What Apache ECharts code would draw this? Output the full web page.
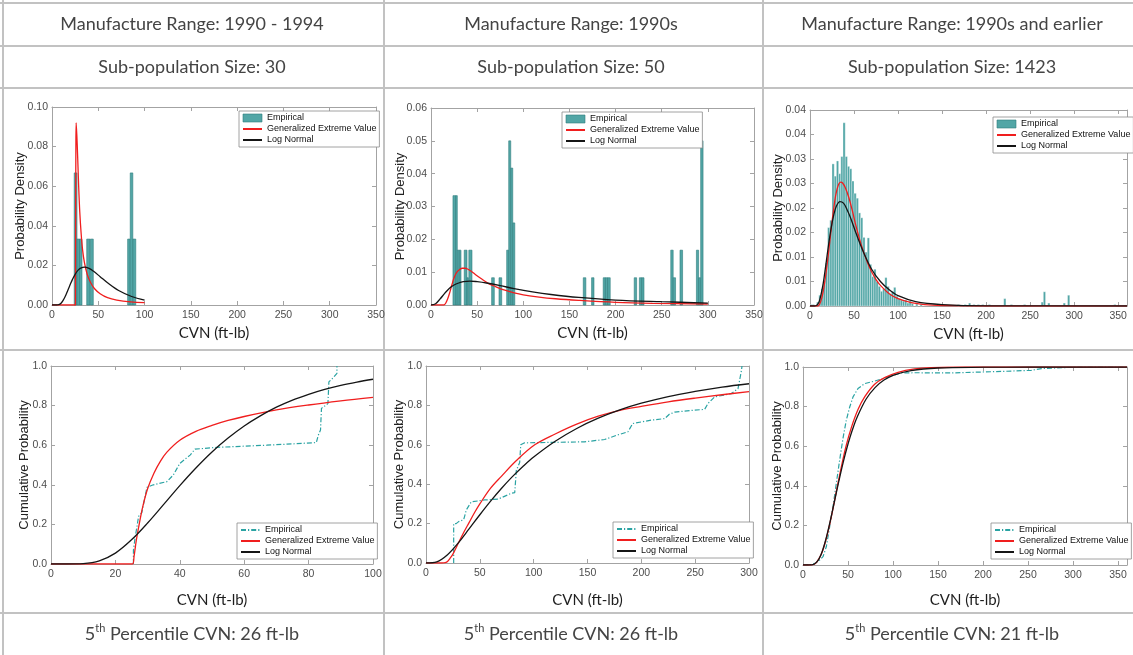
<!DOCTYPE html>
<html>
<head>
<meta charset="utf-8">
<script src="https://cdn.jsdelivr.net/npm/echarts@6/dist/echarts.min.js"></script>
<style>
  html, body { margin: 0; padding: 0; background: #fff; }
  #c { width: 1133px; height: 655px; }
</style>
</head>
<body>
<div id="c"></div>
<script>
// ---- table text ----
const rangeLabels = ['Manufacture Range: 1990 - 1994', 'Manufacture Range: 1990s', 'Manufacture Range: 1990s and earlier'];
const sizeLabels = ['Sub-population Size: 30', 'Sub-population Size: 50', 'Sub-population Size: 1423'];
const p5Values = [26, 26, 21];

// ---- histograms: [binLeft, binRight, density] ----
const hist1 = [[24.0,27.0,0.0667],[27.0,29.7,0.0333],[29.7,32.4,0.0333],[37.5,41.0,0.0333],[41.4,44.6,0.0333],
  [81.7,84.5,0.0333],[84.5,87.3,0.0667],[87.3,90.5,0.0333]];
const hist2 = [[23.8,26.7,0.0333],[26.7,28.5,0.0333],[28.5,30.7,0.0167],[30.7,32.5,0.0167],[36.0,39.0,0.0167],
  [39.0,40.5,0.0083],[41.0,44.4,0.0167],[65.7,68.6,0.0083],[73.7,76.6,0.0083],[82.0,84.2,0.0167],[84.2,86.4,0.05],
  [86.4,88.6,0.0417],[88.6,90.8,0.025],[165.0,167.8,0.0083],[174.0,176.6,0.0083],[186.6,189.0,0.0083],
  [189.0,191.4,0.0083],[191.4,194.2,0.0083],[220.2,222.8,0.0083],[225.8,228.3,0.0083],[228.3,230.8,0.0083],
  [259.8,262.4,0.0167],[262.4,265.0,0.0083],[269.8,272.6,0.0167],[287.6,290.0,0.0167],[290.0,292.2,0.0083],
  [292.2,294.8,0.05]];
const hist3 = [[0,2.5,0.0003],[2.5,5,0.0003],[7.5,10,0.0008],[10,12.5,0.0022],[12.5,15,0.0035],[15,17.5,0.0052],
  [17.5,20,0.0088],[20,22.5,0.016],[22.5,25,0.0175],[25,27.5,0.029],[27.5,30,0.0265],[30,32.5,0.0296],
  [32.5,35,0.027],[35,37.5,0.0305],[37.5,40,0.0374],[40,42.5,0.0305],[42.5,45,0.0285],[45,47.5,0.028],
  [47.5,50,0.0255],[50,52.5,0.023],[52.5,55,0.022],[55,57.5,0.019],[57.5,60,0.018],[60,62.5,0.014],
  [62.5,65,0.011],[65,67.5,0.0139],[67.5,70,0.0085],[70,72.5,0.006],[72.5,75,0.0075],[75,77.5,0.005],
  [77.5,80,0.004],[80,82.5,0.003],[82.5,85,0.0035],[85,87.5,0.0058],[87.5,90,0.004],[90,92.5,0.0025],
  [92.5,95,0.003],[95,97.5,0.0038],[97.5,100,0.002],[100,102.5,0.0015],[102.5,105,0.0012],[105,107.5,0.001],
  [107.5,110,0.0012],[110,112.5,0.0006],[112.5,115,0.001],[115,117.5,0.0005],[120,122.5,0.0004],
  [125,127.5,0.0003],[167.5,170,0.0003],[175,177.5,0.0003],[180,182.5,0.0006],[185,187.5,0.0003],
  [190,192.5,0.0003],[195,197.5,0.0003],[202.5,205,0.0003],[220,222.5,0.0015],[227.5,230,0.0003],
  [242.5,245,0.0003],[262.5,265,0.0008],[265,267.5,0.0029],[270,272.5,0.0006],[287.5,290,0.0006],
  [292.5,295,0.0022],[345,347.5,0.0003]];

// ---- fitted densities: [CVN, density] ----
const pdfGev1 = [[0,0],[25.3,0],[25.5,0.04],[25.8,0.08],[26.1,0.092],[26.8,0.086],[27.7,0.075],[28.8,0.06],
  [30,0.047],[31.5,0.036],[33,0.028],[35,0.0215],[38,0.0155],[41.5,0.0115],[46,0.0082],[52,0.0057],
  [60,0.0037],[70,0.0025],[85,0.0016],[100,0.0012]];
const pdfLogn1 = [[0,0],[5,0],[8,0.0003],[10,0.001],[12,0.0023],[15,0.0051],[18,0.0084],[20,0.0107],[22,0.0128],
  [25,0.0155],[28,0.0175],[31,0.0186],[35,0.0191],[40,0.0185],[45,0.017],[52,0.0143],[60,0.0112],[72,0.0073],
  [86,0.0043],[100,0.0025]];
const pdfGev2 = [[0,0],[14,0],[16,0.0006],[18,0.0018],[20,0.0035],[22.5,0.006],[25,0.0083],[28,0.01],[31,0.0108],
  [34,0.0112],[37,0.0112],[40,0.0109],[44,0.0102],[48,0.0093],[55,0.0079],[62,0.0066],[70,0.0056],[80,0.0045],
  [90,0.0037],[100,0.0031],[115,0.0025],[135,0.0019],[160,0.0014],[200,0.0008],[240,0.0005],[300,0.0003]];
const pdfLogn2 = [[0,0],[5,0.0004],[10,0.0019],[15,0.0036],[20,0.0051],[25,0.0061],[30,0.0067],[35,0.0071],
  [42,0.0073],[50,0.0071],[60,0.0067],[75,0.0059],[90,0.005],[110,0.004],[130,0.0032],[160,0.0023],
  [200,0.0015],[250,0.001],[300,0.0006]];
const pdfGev3 = [[0,0],[9,0],[11,0.0004],[13,0.0014],[15,0.003],[17,0.0052],[19,0.0078],[21,0.0108],[23,0.014],
  [25,0.0172],[27,0.02],[29,0.0224],[31,0.024],[33,0.025],[35,0.0253],[37,0.0251],[40,0.0242],[44,0.0222],
  [48,0.0195],[52,0.0165],[56,0.0138],[60,0.0115],[65,0.009],[70,0.007],[75,0.0054],[80,0.0042],[90,0.0025],
  [100,0.0015],[115,0.0007],[130,0.0003],[150,0.0001],[200,0],[360,0]];
const pdfLogn3 = [[0,0],[5,0],[8,0.0002],[10,0.0007],[12,0.0019],[15,0.0046],[18,0.0084],[21,0.0124],[24,0.0159],
  [27,0.0186],[30,0.0204],[34,0.0213],[38,0.021],[42,0.0197],[46,0.018],[52,0.015],[60,0.0113],[70,0.0075],
  [80,0.005],[90,0.0033],[100,0.0021],[120,0.0009],[150,0.0003],[200,0.00003],[360,0]];

// ---- cumulative curves: [CVN, probability] ----
const cdfEmp1 = [[25.6,0],[25.6,0.07],[26.1,0.13],[27.2,0.24],[28.2,0.26],[29.8,0.387],[31.8,0.4],[36,0.416],
  [38,0.45],[40,0.508],[43.2,0.55],[44.7,0.58],[51.4,0.589],[67,0.6],[82.4,0.613],[83,0.65],[83.7,0.677],
  [84,0.786],[86,0.81],[86.3,0.92],[87.6,0.94],[88.8,0.963],[88.8,1.0]];
const cdfGev1 = [[0,0],[25.3,0],[25.8,0.04],[26.5,0.12],[27.5,0.21],[28.5,0.29],[30,0.38],[32,0.46],[34,0.52],
  [36,0.565],[40,0.625],[45,0.67],[50,0.7],[55,0.725],[60,0.745],[70,0.778],[80,0.803],[90,0.824],[100,0.842]];
const cdfLogn1 = [[0,0],[5,0],[10,0.002],[15,0.016],[20,0.055],[25,0.122],[30,0.207],[35,0.301],[40,0.396],
  [45,0.485],[50,0.566],[55,0.636],[60,0.697],[65,0.748],[70,0.792],[75,0.828],[80,0.857],[85,0.882],
  [90,0.9025],[95,0.919],[100,0.933]];
const cdfEmp2 = [[25.7,0],[25.7,0.2],[28,0.2],[30.3,0.21],[35,0.22],[37.5,0.27],[42,0.31],[54.5,0.32],[66.9,0.324],
  [79.3,0.354],[82.4,0.357],[83.9,0.47],[87,0.51],[88,0.6],[91.6,0.61],[147,0.615],[166,0.627],[178,0.65],
  [187.6,0.666],[192,0.708],[209,0.725],[221.7,0.733],[226,0.755],[231,0.766],[249.5,0.776],[258.8,0.78],
  [262,0.81],[268,0.843],[283.6,0.86],[289.8,0.885],[290.7,0.91],[293,0.978],[293.5,1.0]];
const cdfGev2 = [[0,0],[15,0],[18,0.002],[20,0.008],[22.5,0.025],[25,0.045],[30,0.1],[35,0.155],[40,0.205],
  [45,0.255],[50,0.3],[60,0.38],[70,0.44],[84,0.52],[101,0.6],[120,0.655],[140,0.705],[160,0.745],[180,0.775],
  [200,0.795],[225,0.818],[250,0.837],[275,0.854],[300,0.87]];
const cdfLogn2 = [[0,0],[10,0.006],[20,0.042],[30,0.102],[40,0.173],[50,0.245],[60,0.314],[70,0.378],[80,0.437],
  [90,0.49],[100,0.538],[120,0.618],[140,0.683],[160,0.735],[180,0.777],[200,0.811],[225,0.845],[250,0.871],
  [275,0.893],[300,0.91]];
const cdfEmp3 = [[0,0],[10,0.002],[13,0.008],[18.5,0.025],[22.2,0.042],[25.9,0.092],[29.6,0.193],[33.3,0.294],
  [37,0.412],[40.7,0.529],[44.4,0.639],[48.1,0.731],[51.9,0.798],[55.6,0.849],[61.1,0.891],[68.5,0.916],
  [79.6,0.929],[94.4,0.95],[109,0.97],[124,0.971],[164.8,0.97],[209,0.976],[253.7,0.983],[264.8,0.992],
  [290.7,0.997],[305.6,1.0],[360,1.0]];
const cdfGev3 = [[0,0],[10,0.001],[14.8,0.012],[20.4,0.055],[25.9,0.134],[31.5,0.244],[37,0.37],[42.6,0.496],
  [48.1,0.605],[53.7,0.694],[61.1,0.785],[68.5,0.849],[79.6,0.913],[90.7,0.946],[105.6,0.973],[124,0.99],
  [142.6,0.997],[180,1.0],[360,1.0]];
const cdfLogn3 = [[0,0],[10,0.001],[15,0.013],[20,0.052],[25,0.123],[30,0.217],[35,0.322],[40,0.427],[45,0.525],
  [50,0.611],[55,0.684],[60,0.745],[70,0.837],[80,0.896],[90,0.934],[100,0.958],[120,0.982],[150,0.995],
  [200,0.999],[250,1.0],[360,1.0]];

// ---- styling ----
const UI_FONT = "'Liberation Sans', Arial, Helvetica, sans-serif";
const DOC_FONT = "Lato, 'Open Sans', sans-serif";
const AXIS_COLOR = '#a3a3a3';
const TEXT_COLOR = '#444';
const BAR_FILL = '#52a6a6';
const BAR_EDGE = '#2f7d7d';
const GEV_COLOR = '#f01e1e';
const LOGN_COLOR = '#151515';
const EMP_LINE = '#2aa3a3';

const fmt2 = v => v.toFixed(2);
const fmt1 = v => v.toFixed(1);
const fmtHalfUp = v => (Math.ceil(Math.round(v * 1000) / 10 - 1e-9) / 100).toFixed(2);

const panels = [
  { grid: {left: 52, top: 107, width: 324, height: 198}, x: {min: 0, max: 350, interval: 50}, y: {min: 0, max: 0.10, interval: 0.02},
    yFmt: fmt2, yName: 'Probability Density', yGap: 25, xGap: 21, kind: 'pdf', hist: hist1, binEdge: BAR_EDGE,
    gev: pdfGev1, logn: pdfLogn1, legend: {left: 239, top: 111} },
  { grid: {left: 431, top: 108, width: 323, height: 197}, x: {min: 0, max: 350, interval: 50}, y: {min: 0, max: 0.06, interval: 0.01},
    yFmt: fmt2, yName: 'Probability Density', yGap: 24.5, xGap: 21, kind: 'pdf', hist: hist2, binEdge: BAR_EDGE,
    gev: pdfGev2, logn: pdfLogn2, legend: {left: 562, top: 112} },
  { grid: {left: 810, top: 110, width: 317, height: 196}, x: {min: 0, max: 360, interval: 50}, y: {min: 0, max: 0.04, interval: 0.005},
    yFmt: fmtHalfUp, yName: 'Probability Density', yGap: 25.5, xGap: 21, kind: 'pdf', hist: hist3, binEdge: 'rgba(255,255,255,0.55)',
    gev: pdfGev3, logn: pdfLogn3, legend: {left: 993, top: 117} },
  { grid: {left: 51, top: 366, width: 322, height: 198}, x: {min: 0, max: 100, interval: 20}, y: {min: 0, max: 1, interval: 0.2},
    yFmt: fmt1, yName: 'Cumulative Probability', yGap: 20.5, xGap: 29, kind: 'cdf', emp: cdfEmp1, gev: cdfGev1, logn: cdfLogn1,
    legend: {left: 237, top: 523} },
  { grid: {left: 426, top: 366, width: 323, height: 197}, x: {min: 0, max: 300, interval: 50}, y: {min: 0, max: 1, interval: 0.2},
    yFmt: fmt1, yName: 'Cumulative Probability', yGap: 20, xGap: 30, kind: 'cdf', emp: cdfEmp2, gev: cdfGev2, logn: cdfLogn2,
    legend: {left: 613, top: 522} },
  { grid: {left: 803, top: 367, width: 324, height: 198}, x: {min: 0, max: 360, interval: 50}, y: {min: 0, max: 1, interval: 0.2},
    yFmt: fmt1, yName: 'Cumulative Probability', yGap: 19.5, xGap: 28, kind: 'cdf', emp: cdfEmp3, gev: cdfGev3, logn: cdfLogn3,
    legend: {left: 991, top: 523} }
];

const grids = [], xAxes = [], yAxes = [], series = [], legends = [];

function axisCommon() {
  return {
    type: 'value',
    nameMoveOverlap: false,
    axisLine: {show: true, onZero: false, lineStyle: {color: AXIS_COLOR, width: 1}},
    axisTick: {show: true, inside: true, length: 4, lineStyle: {color: AXIS_COLOR, width: 1}},
    splitLine: {show: false}
  };
}

function binRenderer(edgeColor) {
  return function (params, api) {
    const top = api.coord([api.value(0), api.value(2)]);
    const base = api.coord([api.value(1), 0]);
    return {
      type: 'rect',
      shape: {x: top[0], y: top[1], width: base[0] - top[0], height: base[1] - top[1]},
      style: {fill: BAR_FILL, stroke: edgeColor, lineWidth: 0.6}
    };
  };
}

function curve(name, data, color, gi, dashed) {
  return {
    type: 'line', name, data, xAxisIndex: 2 * gi, yAxisIndex: 2 * gi,
    symbol: 'none', smooth: dashed ? false : 0.35, clip: true, silent: true, z: dashed ? 3 : 4,
    lineStyle: {color, width: dashed ? 1.2 : 1.3, type: dashed ? [5, 2, 1.2, 2] : 'solid'},
    itemStyle: {color}
  };
}

const hiddenMarker = {opacity: 0};

panels.forEach((p, gi) => {
  grids.push(Object.assign({containLabel: false}, p.grid));

  xAxes.push(Object.assign(axisCommon(), {
    gridIndex: gi, position: 'bottom', min: p.x.min, max: p.x.max, interval: p.x.interval,
    axisLabel: {show: true, margin: 5, fontFamily: UI_FONT, fontSize: 10.5, color: '#4d4d4d', showMaxLabel: p.x.max % p.x.interval === 0},
    name: 'CVN (ft-lb)', nameLocation: 'middle', nameGap: p.xGap,
    nameTextStyle: {fontFamily: DOC_FONT, fontSize: 15, color: '#1e1e1e'}
  }));
  xAxes.push(Object.assign(axisCommon(), {
    gridIndex: gi, position: 'top', min: p.x.min, max: p.x.max, interval: p.x.interval,
    axisLabel: {show: false}
  }));
  yAxes.push(Object.assign(axisCommon(), {
    gridIndex: gi, position: 'left', min: p.y.min, max: p.y.max, interval: p.y.interval,
    axisLabel: {show: true, margin: 4, fontFamily: UI_FONT, fontSize: 10.5, color: '#4d4d4d', formatter: p.yFmt},
    name: p.yName, nameLocation: 'middle', nameGap: p.yGap,
    nameTextStyle: {fontFamily: UI_FONT, fontSize: 13, color: '#222'}
  }));
  yAxes.push(Object.assign(axisCommon(), {
    gridIndex: gi, position: 'right', min: p.y.min, max: p.y.max, interval: p.y.interval,
    axisLabel: {show: false}
  }));

  let legendData;
  if (p.kind === 'pdf') {
    series.push({
      type: 'custom', name: 'Empirical', xAxisIndex: 2 * gi, yAxisIndex: 2 * gi,
      data: p.hist, encode: {x: [0, 1], y: 2}, renderItem: binRenderer(p.binEdge), silent: true, z: 2,
      itemStyle: {color: BAR_FILL, borderColor: BAR_EDGE, borderWidth: 0.6}
    });
    legendData = [{name: 'Empirical', icon: 'rect', itemStyle: {borderColor: BAR_EDGE, borderWidth: 0.6}}];
  } else {
    series.push(curve('Empirical CDF', p.emp, EMP_LINE, gi, true));
    legendData = [{name: 'Empirical CDF', itemStyle: hiddenMarker}];
  }
  legendData.push({name: 'Generalized Extreme Value', itemStyle: hiddenMarker});
  legendData.push({name: 'Log Normal', itemStyle: hiddenMarker});
  series.push(curve('Generalized Extreme Value', p.gev, GEV_COLOR, gi, false));
  series.push(curve('Log Normal', p.logn, LOGN_COLOR, gi, false));

  legends.push({
    orient: 'vertical', left: p.legend.left, top: p.legend.top, data: legendData,
    backgroundColor: '#fff', borderColor: '#8c8c8c', borderWidth: 0.8, borderRadius: 0,
    padding: [2, 3, 2, 3], itemGap: 1, itemWidth: 19, itemHeight: 8,
    selectedMode: false,
    formatter: name => name === 'Empirical CDF' ? 'Empirical' : name,
    textStyle: {fontFamily: UI_FONT, fontSize: 9, color: '#111', lineHeight: 10}
  });
});

// ---- table grid and cell text ----
const colCenters = [192, 571, 952];
const hLines = [3, 46, 88, 350, 613];
const vLines = [3, 384, 763];
const graphics = [];
hLines.forEach(y => graphics.push({type: 'line', shape: {x1: 0, y1: y, x2: 1133, y2: y}, style: {stroke: '#c2c2c2', lineWidth: 2}, silent: true}));
vLines.forEach(x => graphics.push({type: 'line', shape: {x1: x, y1: 0, x2: x, y2: 655}, style: {stroke: '#c2c2c2', lineWidth: 2}, silent: true}));

function cellText(text, x, y, rich) {
  return {
    type: 'text', x, y, silent: true,
    style: Object.assign({
      text, align: 'center', verticalAlign: 'middle', textAlign: 'center', textVerticalAlign: 'middle',
      fill: TEXT_COLOR, font: '18px ' + DOC_FONT
    }, rich ? {rich} : {})
  };
}
colCenters.forEach((cx, i) => {
  graphics.push(cellText(rangeLabels[i], cx, 24));
  graphics.push(cellText(sizeLabels[i], cx, 67));
  graphics.push(cellText('{n|5}{s|th}{n| Percentile CVN: ' + p5Values[i] + ' ft-lb}', cx, 634, {
    n: {fontSize: 18, fontFamily: DOC_FONT, fill: TEXT_COLOR, color: TEXT_COLOR, lineHeight: 22},
    s: {fontSize: 11, fontFamily: DOC_FONT, fill: TEXT_COLOR, color: TEXT_COLOR, lineHeight: 12, verticalAlign: 'top'}
  }));
});

const chart = echarts.init(document.getElementById('c'), null, {renderer: 'canvas'});
chart.setOption({
  animation: false,
  backgroundColor: '#fff',
  grid: grids,
  xAxis: xAxes,
  yAxis: yAxes,
  legend: legends,
  series: series,
  graphic: graphics
});
</script>
</body>
</html>
